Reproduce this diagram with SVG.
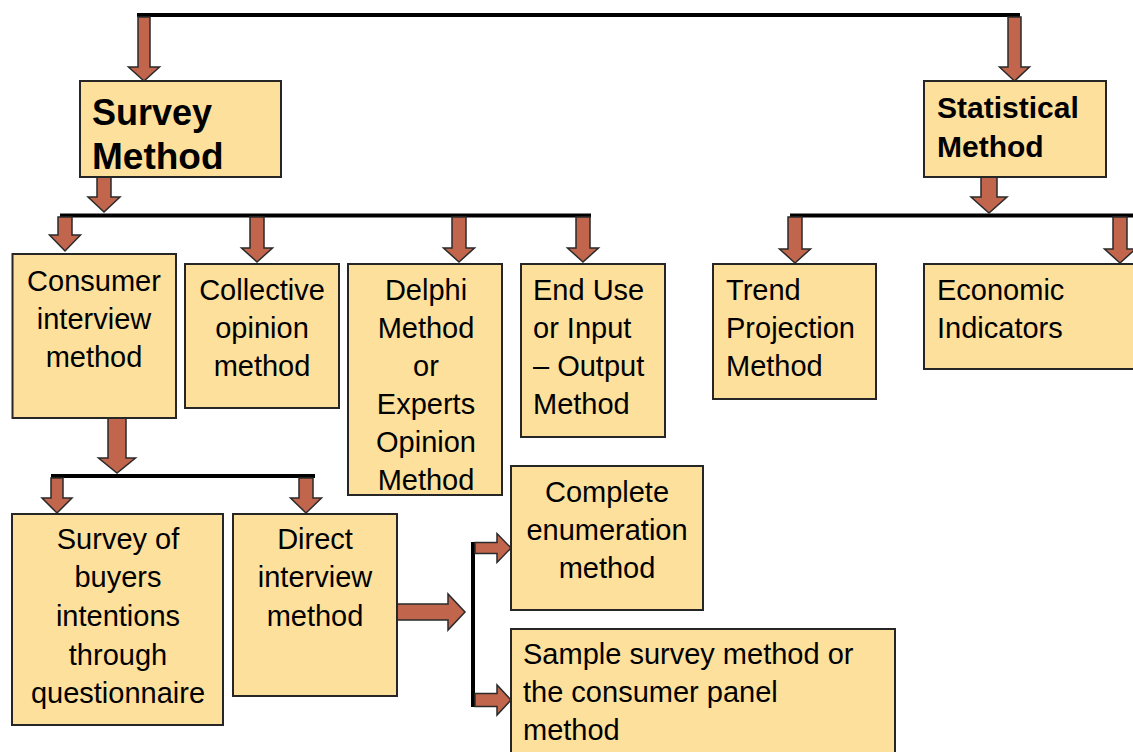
<svg xmlns="http://www.w3.org/2000/svg" width="1133" height="752" viewBox="0 0 1133 752">
<style>
.box{fill:#FDE09B;stroke:#262626;stroke-width:2}
.bar{stroke:#000;stroke-width:4;fill:none}
.arr{fill:#C2654D;stroke:#2a2a2a;stroke-width:1.5;stroke-linejoin:miter}
text{font-family:"Liberation Sans",Arial,sans-serif;font-size:29px;fill:#000}
.c{text-anchor:middle}
.h{font-weight:bold}
</style>
<rect width="1133" height="752" fill="#fff"/>
<g id="connectors">
<path class="bar" d="M137 15H1020"/>
<path class="bar" d="M60 215.5H591"/>
<path class="bar" d="M790 215.5H1133"/>
<path class="bar" d="M51 476H315"/>
<path class="bar" d="M473 542V707"/>
<polygon class="arr" points="138,17 150,17 150,67 159.5,67 144,81 128.5,67 138,67"/>
<polygon class="arr" points="1008,17 1021,17 1021,67 1029.5,67 1014.5,81 999.5,67 1008,67"/>
<polygon class="arr" points="97,177 111,177 111,197 120,197 104,212 88,197 97,197"/>
<polygon class="arr" points="981,177 997,177 997,197 1007,197 989,213 971,197 981,197"/>
<polygon class="arr" points="58,217 72,217 72,235 80.5,235 65,251 49.5,235 58,235"/>
<polygon class="arr" points="250,217 264,217 264,248 272.5,248 257,262 241.5,248 250,248"/>
<polygon class="arr" points="452,217 466,217 466,248 474.5,248 459,262 443.5,248 452,248"/>
<polygon class="arr" points="576,217 590,217 590,248 598.5,248 583,262 567.5,248 576,248"/>
<polygon class="arr" points="788,217 802,217 802,249 810.5,249 795,263 779.5,249 788,249"/>
<polygon class="arr" points="1113,217 1127,217 1127,249 1135.5,249 1120,263 1104.5,249 1113,249"/>
<polygon class="arr" points="108,418 126,418 126,458 135.5,458 117,473 98.5,458 108,458"/>
<polygon class="arr" points="51,478 63,478 63,498 72,498 57,513 42,498 51,498"/>
<polygon class="arr" points="299,478 313,478 313,498 321.5,498 306,513 290.5,498 299,498"/>
<polygon class="arr" points="397,604 448,604 448,594 465,612 448,630 448,620 397,620"/>
<polygon class="arr" points="475,542.5 497,542.5 497,533.5 511,548 497,562.5 497,553.5 475,553.5"/>
<polygon class="arr" points="475,693.5 497,693.5 497,685 511,700 497,715 497,706.5 475,706.5"/>
</g>
<g id="survey">
<rect class="box" x="80" y="81" width="201" height="96"/>
<text class="h" x="92" y="125" style="font-size:36px">Survey</text>
<text class="h" x="92" y="169" style="font-size:37px">Method</text>
</g>
<g id="statistical">
<rect class="box" x="924" y="81" width="182" height="96"/>
<text class="h" x="937" y="118" style="font-size:30px">Statistical</text>
<text class="h" x="937" y="157" style="font-size:30px">Method</text>
</g>
<g id="consumer">
<rect class="box" x="12.5" y="254" width="163.5" height="164"/>
<text class="c" x="94" y="291">Consumer</text>
<text class="c" x="94" y="329">interview</text>
<text class="c" x="94" y="367">method</text>
</g>
<g id="collective">
<rect class="box" x="185" y="264" width="154" height="144"/>
<text class="c" x="262" y="300">Collective</text>
<text class="c" x="262" y="338">opinion</text>
<text class="c" x="262" y="376">method</text>
</g>
<g id="delphi">
<rect class="box" x="348" y="264" width="154" height="231"/>
<text class="c" x="426" y="300">Delphi</text>
<text class="c" x="426" y="338">Method</text>
<text class="c" x="426" y="376">or</text>
<text class="c" x="426" y="414">Experts</text>
<text class="c" x="426" y="452">Opinion</text>
<text class="c" x="426" y="490">Method</text>
</g>
<g id="enduse">
<rect class="box" x="521" y="264" width="144" height="173"/>
<text x="533" y="300">End Use</text>
<text x="533" y="338">or Input</text>
<text x="533" y="376">– Output</text>
<text x="533" y="414">Method</text>
</g>
<g id="trend">
<rect class="box" x="713" y="264" width="163" height="135"/>
<text x="726" y="300">Trend</text>
<text x="726" y="338">Projection</text>
<text x="726" y="376">Method</text>
</g>
<g id="economic">
<rect class="box" x="924" y="264" width="220" height="105"/>
<text x="937" y="300">Economic</text>
<text x="937" y="338">Indicators</text>
</g>
<g id="buyers">
<rect class="box" x="12" y="514" width="211" height="211"/>
<text class="c" x="118" y="549">Survey of</text>
<text class="c" x="118" y="587">buyers</text>
<text class="c" x="118" y="626">intentions</text>
<text class="c" x="118" y="665">through</text>
<text class="c" x="118" y="703">questionnaire</text>
</g>
<g id="direct">
<rect class="box" x="233" y="514" width="164" height="182"/>
<text class="c" x="315" y="549">Direct</text>
<text class="c" x="315" y="587">interview</text>
<text class="c" x="315" y="626">method</text>
</g>
<g id="complete">
<rect class="box" x="511" y="466" width="192" height="144"/>
<text class="c" x="607" y="502">Complete</text>
<text class="c" x="607" y="540">enumeration</text>
<text class="c" x="607" y="578">method</text>
</g>
<g id="sample">
<rect class="box" x="511" y="629" width="384" height="135"/>
<text x="523" y="664">Sample survey method or</text>
<text x="523" y="702">the consumer panel</text>
<text x="523" y="740">method</text>
</g>
</svg>
